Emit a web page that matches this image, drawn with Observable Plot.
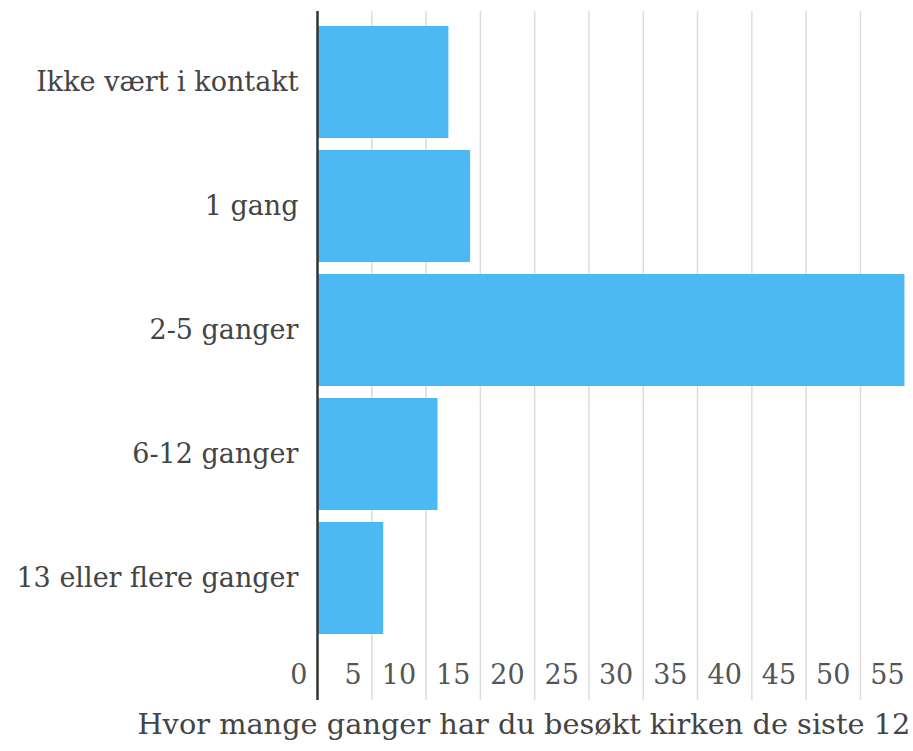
<!DOCTYPE html>
<html>
<head>
<meta charset="utf-8">
<script src="https://cdn.jsdelivr.net/npm/d3@7"></script>
<script src="https://cdn.jsdelivr.net/npm/@observablehq/plot@0.6"></script>
<style>
  html, body { margin: 0; padding: 0; background: #fff; overflow: hidden; }
  #chart { width: 913px; height: 751px; overflow: hidden; }
  #chart svg { max-width: none !important; width: 1000px; height: 751px; }
</style>
</head>
<body>
<div id="chart"></div>
<script>
const categories = ["Ikke vært i kontakt", "1 gang", "2-5 ganger", "6-12 ganger", "13 eller flere ganger"];
const values = [12.1, 14.1, 54.1, 11.1, 6.1];
const xTicks = [0, 5, 10, 15, 20, 25, 30, 35, 40, 45, 50, 55];
const xTitle = "Hvor mange ganger har du besøkt kirken de siste 12";

const data = categories.map((c, i) => ({category: c, value: values[i]}));
const font = "DejaVu Serif";

const chart = Plot.plot({
  width: 1000,
  height: 751,
  marginLeft: 317,
  marginRight: 0,
  marginTop: 11,
  marginBottom: 51,
  style: {fontFamily: font, fontSize: "27px", color: "#444", background: "#fff", maxWidth: "none"},
  x: {domain: [0, 62.9], axis: null},
  y: {domain: categories, range: [11, 648], padding: 0.1, axis: null},
  marks: [
    Plot.ruleX(xTicks.filter(d => d > 0), {stroke: "#dcdcdc", strokeWidth: 1.5}),
    Plot.barX(data, {y: "category", x: "value", fill: "#4cb9f4"}),
    Plot.ruleX([0], {stroke: "#333", strokeWidth: 2.5}),
    Plot.axisY({tickSize: 0, tickPadding: 19, label: null, fontSize: 27, fill: "#444"}),
    Plot.text(xTicks, {x: d => d, text: d => String(d), frameAnchor: "bottom", dy: -17, dx: -10, textAnchor: "end", fontSize: 27, fill: "#555"}),
    Plot.text([xTitle], {frameAnchor: "bottom-left", text: d => d, textAnchor: "start", dx: -180, dy: 33, fontSize: 28.8, fill: "#444"})
  ]
});
document.getElementById("chart").appendChild(chart);
</script>
</body>
</html>
